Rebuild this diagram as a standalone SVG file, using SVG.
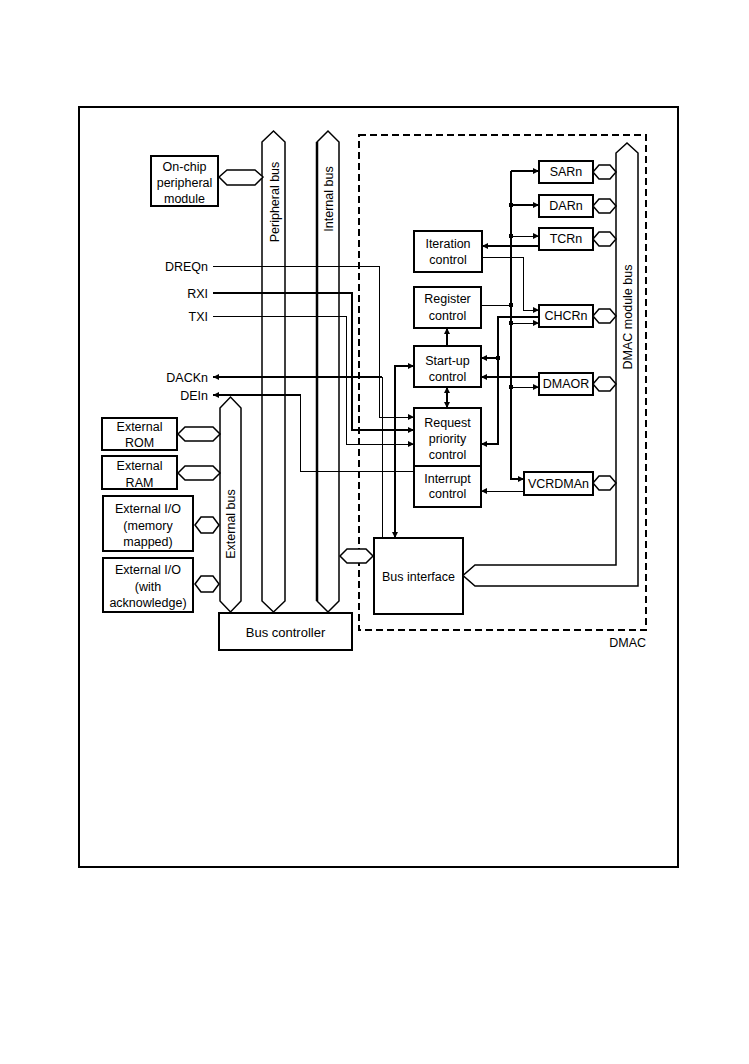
<svg xmlns="http://www.w3.org/2000/svg" width="749" height="1064" viewBox="0 0 749 1064">
<defs>
<marker id="ah" viewBox="0 0 6 6" refX="6" refY="3" markerWidth="6" markerHeight="6" markerUnits="userSpaceOnUse" orient="auto-start-reverse">
<path d="M0,0 L6,3 L0,6 Z" fill="#000"/>
</marker>
<style>
text{font-family:"Liberation Sans",Arial,sans-serif;font-size:12.5px;fill:#000}
.box{fill:#fff;stroke:#000;stroke-width:1.5;shape-rendering:crispEdges}
.bus{fill:#fff;stroke:#000;stroke-width:1.5}
.hex{fill:#fff;stroke:#000;stroke-width:1.5}
.w{fill:none;stroke:#000;stroke-width:1;shape-rendering:crispEdges}
.t{fill:none;stroke:#000;stroke-width:2;shape-rendering:crispEdges}
.a{marker-end:url(#ah)}
.b{marker-start:url(#ah);marker-end:url(#ah)}
.c{text-anchor:middle}
.e{text-anchor:end}
</style>
</defs>
<rect x="79" y="107" width="599" height="760" fill="none" stroke="#000" stroke-width="2" shape-rendering="crispEdges"/>
<rect x="359" y="135" width="287" height="495" fill="none" stroke="#000" stroke-width="1.5" stroke-dasharray="7,4" shape-rendering="crispEdges"/>
<text x="646" y="647" class="e">DMAC</text>

<g id="peripheral-bus">
<path class="bus" d="M262,142 L273.5,131 L285,142 L285,601 L273.5,612 L262,601 Z"/>
<text class="c" transform="translate(279,202) rotate(-90)">Peripheral bus</text>
</g>
<g id="internal-bus">
<path class="bus" d="M317,142 L328,131 L339,142 L339,601 L328,612 L317,601 Z"/>
<line x1="317" y1="142" x2="317" y2="601" stroke="#000" stroke-width="2.5"/>
<text class="c" transform="translate(333,199) rotate(-90)">Internal bus</text>
</g>
<g id="external-bus">
<path class="bus" d="M220,408 L230.5,397 L241,408 L241,601 L230.5,612 L220,601 Z"/>
<text class="c" transform="translate(235,524) rotate(-90)">External bus</text>
</g>
<g id="dmac-module-bus">
<path class="bus" d="M616,565 L616,153 L627,143 L638,153 L638,586 L475,586 L463,575.5 L475,565 Z"/>
<text class="c" transform="translate(632,317) rotate(-90)">DMAC module bus</text>
</g>

<g id="onchip">
<rect class="box" x="151" y="156" width="67" height="50"/>
<text class="c" x="184.5" y="171">On-chip</text>
<text class="c" x="184.5" y="187">peripheral</text>
<text class="c" x="184.5" y="203">module</text>
</g>
<g id="bus-controller">
<rect class="box" x="219" y="613" width="133" height="37"/>
<text class="c" x="285.5" y="637" style="font-size:13px">Bus controller</text>
</g>
<g id="ext-rom">
<rect class="box" x="102" y="418" width="75" height="32"/>
<text class="c" x="139.5" y="431">External</text>
<text class="c" x="139.5" y="447">ROM</text>
</g>
<g id="ext-ram">
<rect class="box" x="102" y="456" width="75" height="33"/>
<text class="c" x="139.5" y="470">External</text>
<text class="c" x="139.5" y="487">RAM</text>
</g>
<g id="ext-io-mem">
<rect class="box" x="103" y="496" width="90" height="55"/>
<text class="c" x="148" y="513">External I/O</text>
<text class="c" x="148" y="530">(memory</text>
<text class="c" x="148" y="546">mapped)</text>
</g>
<g id="ext-io-ack">
<rect class="box" x="103" y="558" width="90" height="54"/>
<text class="c" x="148" y="574">External I/O</text>
<text class="c" x="148" y="591">(with</text>
<text class="c" x="148" y="607">acknowledge)</text>
</g>

<g id="iteration-control">
<rect class="box" x="414" y="231" width="68" height="41"/>
<text class="c" x="448" y="248">Iteration</text>
<text class="c" x="448" y="264">control</text>
</g>
<g id="register-control">
<rect class="box" x="414" y="287" width="67" height="41"/>
<text class="c" x="447.5" y="303">Register</text>
<text class="c" x="447.5" y="320">control</text>
</g>
<g id="startup-control">
<rect class="box" x="414" y="346" width="67" height="41"/>
<text class="c" x="447.5" y="365">Start-up</text>
<text class="c" x="447.5" y="381">control</text>
</g>
<g id="request-priority-control">
<rect class="box" x="414" y="408" width="67" height="58"/>
<text class="c" x="447.5" y="427">Request</text>
<text class="c" x="447.5" y="443">priority</text>
<text class="c" x="447.5" y="459">control</text>
</g>
<g id="interrupt-control">
<rect class="box" x="414" y="466" width="67" height="41"/>
<text class="c" x="447.5" y="483">Interrupt</text>
<text class="c" x="447.5" y="498">control</text>
</g>
<g id="bus-interface">
<rect class="box" x="374" y="538" width="89" height="76"/>
<text class="c" x="418.5" y="581">Bus interface</text>
</g>
<g id="sarn"><rect class="box" x="539" y="161" width="54" height="22"/><text class="c" x="566" y="176">SARn</text></g>
<g id="darn"><rect class="box" x="539" y="195" width="54" height="22"/><text class="c" x="566" y="210">DARn</text></g>
<g id="tcrn"><rect class="box" x="539" y="228" width="54" height="22"/><text class="c" x="566" y="243">TCRn</text></g>
<g id="chcrn"><rect class="box" x="539" y="305" width="54" height="22"/><text class="c" x="566" y="320">CHCRn</text></g>
<g id="dmaor"><rect class="box" x="539" y="373" width="54" height="22"/><text class="c" x="566" y="388">DMAOR</text></g>
<g id="vcrdman"><rect class="box" x="524" y="472" width="69" height="23"/><text class="c" x="558.5" y="488">VCRDMAn</text></g>

<g id="connectors">
<path class="hex" d="M219,177 L227,170 L255,170 L263,177 L255,185 L227,185 Z"/>
<path class="hex" d="M178,434 L185,427 L213,427 L220,434 L213,441 L185,441 Z"/>
<path class="hex" d="M178,473 L185,466 L213,466 L220,473 L213,480 L185,480 Z"/>
<path class="hex" d="M195,525 L201,517 L213,517 L219,525 L213,533 L201,533 Z"/>
<path class="hex" d="M195,584 L201,576 L213,576 L219,584 L213,592 L201,592 Z"/>
<path class="hex" d="M340,556 L347,549 L366,549 L373,556 L366,563 L347,563 Z"/>
<path class="hex" d="M593,172 L599,165 L610,165 L616,172 L610,179 L599,179 Z"/>
<path class="hex" d="M593,206 L599,199 L610,199 L616,206 L610,213 L599,213 Z"/>
<path class="hex" d="M593,239 L599,232 L610,232 L616,239 L610,246 L599,246 Z"/>
<path class="hex" d="M593,316 L599,309 L610,309 L616,316 L610,323 L599,323 Z"/>
<path class="hex" d="M593,384 L599,377 L610,377 L616,384 L610,391 L599,391 Z"/>
<path class="hex" d="M593,483 L599,476 L610,476 L616,483 L610,490 L599,490 Z"/>

<text class="e" x="208" y="271">DREQn</text>
<text class="e" x="208" y="298">RXI</text>
<text class="e" x="208" y="321">TXI</text>
<text class="e" x="208" y="382">DACKn</text>
<text class="e" x="208" y="400">DEIn</text>

<path class="w a" d="M213,266 L379,266 L379,417 L414,417"/>
<path class="t a" d="M213,293 L352,293 L352,430 L414,430"/>
<path class="w a" d="M213,316 L346,316 L346,444 L414,444"/>
<path class="w" d="M382,538 L382,377"/>
<path class="t a" d="M382,377 L213,377"/>
<path class="w" d="M414,471 L300,471 L300,395"/>
<path class="t a" d="M301,395 L213,395"/>
<path class="t b" d="M414,366 L395,366 L395,538"/>
<path class="t a" d="M447,346 L447,328"/>
<path class="t b" d="M447,387 L447,408"/>

<path class="t a" d="M539,246 L482,246"/>
<path class="w a" d="M482,257 L523,257 L523,310 L539,310"/>
<path class="w" d="M481,305 L511,305"/>
<path class="t a" d="M511,171 L539,171"/>
<path class="t a" d="M511,171 L511,479 L524,479"/>
<path class="t a" d="M511,205 L539,205"/>
<path class="w a" d="M511,236 L539,236"/>
<path class="w a" d="M511,323 L539,323"/>
<path class="w a" d="M511,387 L539,387"/>
<path class="t a" d="M539,317 L498,317 L498,444 L481,444"/>
<path class="t a" d="M498,358 L481,358"/>
<path class="t a" d="M539,377 L481,377"/>
<path class="w a" d="M524,491 L481,491"/>
<g fill="#000">
<rect x="509" y="203" width="4" height="4"/>
<rect x="509" y="234" width="4" height="4"/>
<rect x="509" y="303" width="4" height="4"/>
<rect x="509" y="321" width="4" height="4"/>
<rect x="509" y="385" width="4" height="4"/>
<rect x="496" y="356" width="4" height="4"/>
</g>
</g>
</svg>
